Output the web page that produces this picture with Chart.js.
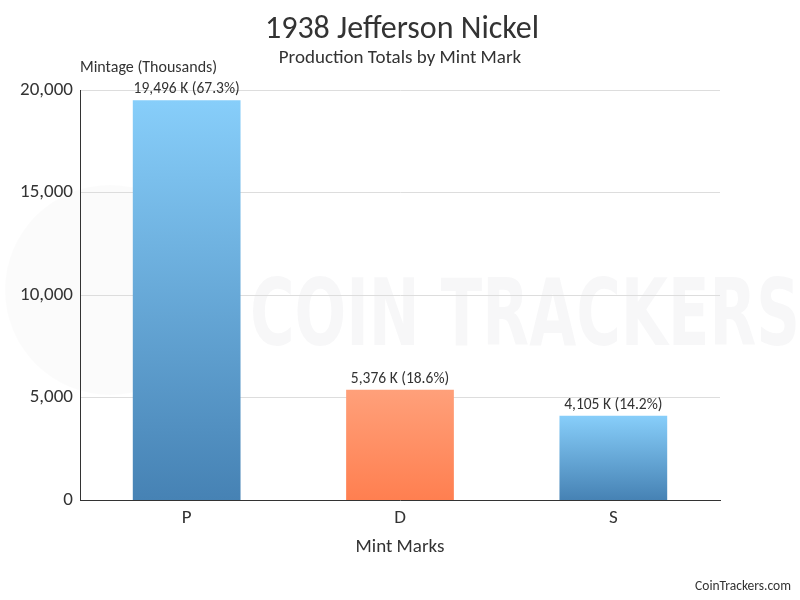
<!DOCTYPE html>
<html>
<head>
<meta charset="utf-8">
<script src="https://cdn.jsdelivr.net/npm/chart.js@4"></script>
<style>
html,body{margin:0;padding:0;background:#fff;}
#wrap{width:800px;height:600px;}
</style>
</head>
<body>
<div id="wrap"><canvas id="c" width="800" height="600"></canvas></div>
<script>
const categories = ["P", "D", "S"];
const mintage = [19496, 5376, 4105];
const yTicks = [0, 5000, 10000, 15000, 20000];
const titleText = "1938 Jefferson Nickel";
const subtitleText = "Production Totals by Mint Mark";
const yAxisTitle = "Mintage (Thousands)";
const xAxisTitle = "Mint Marks";
const creditText = "CoinTrackers.com";

const FONT = "Carlito, Lato, 'Open Sans', sans-serif";
const total = mintage.reduce((a, b) => a + b, 0);
const gradStops = [
  ["#87CEFA", "#4682B4"],
  ["#FFA07A", "#FF7F50"],
  ["#87CEFA", "#4682B4"]
];

function barFill(ctx) {
  const chart = ctx.chart;
  const i = ctx.dataIndex;
  const stops = gradStops[i] || gradStops[0];
  if (!chart.chartArea || ctx.type !== 'data') return stops[1];
  const y = chart.scales.y;
  const top = y.getPixelForValue(mintage[i]);
  const bottom = y.getPixelForValue(0);
  const g = chart.ctx.createLinearGradient(0, top, 0, bottom);
  g.addColorStop(0, stops[0]);
  g.addColorStop(1, stops[1]);
  return g;
}

const decor = {
  id: 'decor',
  beforeDraw(chart) {
    const c = chart.ctx;
    c.save();
    // watermark
    c.fillStyle = 'rgba(0,0,0,0.015)';
    c.beginPath();
    c.arc(110, 290, 105, 0, Math.PI * 2);
    c.fill();
    c.fillStyle = 'rgba(40,60,80,0.04)';
    c.font = "bold 92px 'Liberation Sans Narrow', 'DejaVu Sans Condensed', sans-serif";
    c.textAlign = 'left';
    c.textBaseline = 'alphabetic';
    c.fillText("COIN TRACKERS", 250, 345, 550);
    c.restore();
  },
  afterDraw(chart) {
    const c = chart.ctx;
    c.save();
    c.fillStyle = '#333';
    c.textAlign = 'center';
    c.textBaseline = 'middle';
    c.font = "32px " + FONT;
    c.fillText(titleText, 402, 30);
    c.font = "19px " + FONT;
    c.fillText(subtitleText, 400, 58);
    c.fillText(xAxisTitle, 400, 547);
    c.textAlign = 'left';
    c.font = "16px " + FONT;
    c.fillText(yAxisTitle, 80, 68);
    c.textAlign = 'right';
    c.font = "13.5px " + FONT;
    c.fillText(creditText, 791, 587);
    // value labels
    const meta = chart.getDatasetMeta(0);
    c.textAlign = 'center';
    c.textBaseline = 'bottom';
    c.font = "15.5px " + FONT;
    meta.data.forEach((bar, i) => {
      const pct = (mintage[i] / total * 100).toFixed(1);
      const txt = mintage[i].toLocaleString('en-US') + " K (" + pct + "%)";
      c.fillText(txt, bar.x, bar.y - 3);
    });
    c.restore();
  }
};

new Chart(document.getElementById('c'), {
  type: 'bar',
  data: {
    labels: categories,
    datasets: [{
      data: mintage,
      backgroundColor: barFill,
      borderWidth: 0,
      barPercentage: 0.505,
      categoryPercentage: 1.0
    }]
  },
  options: {
    responsive: false,
    animation: false,
    devicePixelRatio: 1,
    layout: { padding: { top: 90, right: 80, bottom: 0, left: 0 } },
    plugins: { legend: { display: false }, tooltip: { enabled: false }, title: { display: false } },
    scales: {
      x: {
        afterFit(s) { s.height = 100; },
        grid: { display: false, drawTicks: false },
        border: { display: true, color: '#333', width: 1 },
        ticks: { color: '#333', font: { family: FONT, size: 19 }, padding: 7 }
      },
      y: {
        min: 0, max: 20000,
        afterFit(s) { s.width = 80; },
        afterBuildTicks(s) { s.ticks = yTicks.map(v => ({ value: v })); },
        grid: { color: '#dddddd', drawTicks: false, lineWidth: ctx => ctx.tick && ctx.tick.value === 0 ? 0 : 1 },
        border: { display: true, color: '#333', width: 1 },
        ticks: {
          color: '#333', font: { family: FONT, size: 19 }, padding: 7,
          callback: v => Number(v).toLocaleString('en-US')
        }
      }
    }
  },
  plugins: [decor]
});
</script>
</body>
</html>
